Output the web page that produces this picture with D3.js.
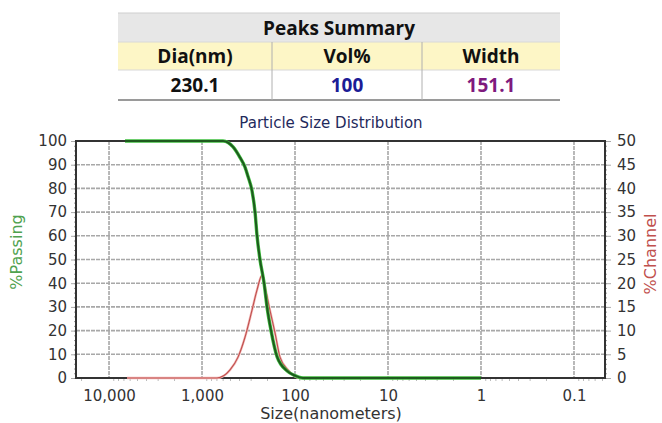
<!DOCTYPE html>
<html>
<head>
<meta charset="UTF-8">
<script src="https://d3js.org/d3.v7.min.js"></script>
<style>
  body { margin: 0; background: #fff; }
  text { font-family: "DejaVu Sans", sans-serif; }
</style>
</head>
<body>
<svg id="vis" width="662" height="423"></svg>
<script>
// peaks summary table
var tableTitle = "Peaks Summary";
var tableHeaders = ["Dia(nm)", "Vol%", "Width"];
var tableValues = ["230.1", "100", "151.1"];
var valueColors = ["#111", "#1c1c96", "#7e1a7e"];

// %Passing curve (size in nm -> cumulative %)
var passSizes = [6730, 1000, 594, 464, 390, 345, 320, 290, 269, 256, 238, 215, 200, 181, 156, 122, 100, 82, 10, 1];
var passValues = [100, 100, 100, 97.5, 93, 89, 85, 79, 70, 60, 50, 40, 30, 20, 9, 3, 1, 0, 0, 0];

// %Channel curve
var chanSizes = [6400, 1000, 690, 500, 410, 345, 290, 256, 226, 210, 186, 164, 145, 119, 88, 10, 1];
var chanValues = [0, 0, 0, 1.7, 4.4, 8.6, 14.3, 18.6, 21.7, 19.2, 14.3, 9.5, 4.4, 1.7, 0, 0, 0];

var xTicks = [10000, 1000, 100, 10, 1, 0.1];
var leftTicks = [0, 10, 20, 30, 40, 50, 60, 70, 80, 90, 100];
var rightTicks = [0, 5, 10, 15, 20, 25, 30, 35, 40, 45, 50];

var svg = d3.select("#vis");

// ---- table ----
var colX = [118, 272, 422, 560];
var rowY = [13, 42, 70, 100];
var gT = svg.append("g");
gT.append("rect").attr("x", colX[0]).attr("y", rowY[0]).attr("width", colX[3] - colX[0]).attr("height", rowY[1] - rowY[0]).attr("fill", "#e7e7e7");
gT.append("rect").attr("x", colX[0]).attr("y", rowY[1]).attr("width", colX[3] - colX[0]).attr("height", rowY[2] - rowY[1]).attr("fill", "#fdf6c6");
gT.append("line").attr("x1", colX[0]).attr("x2", colX[3]).attr("y1", rowY[0]).attr("y2", rowY[0]).attr("stroke", "#cfcfcf");
gT.append("line").attr("x1", colX[0]).attr("x2", colX[3]).attr("y1", rowY[1]).attr("y2", rowY[1]).attr("stroke", "#d8d8d8");
gT.append("line").attr("x1", colX[0]).attr("x2", colX[3]).attr("y1", rowY[2]).attr("y2", rowY[2]).attr("stroke", "#d8d8d8");
gT.append("line").attr("x1", colX[0]).attr("x2", colX[3]).attr("y1", rowY[3]).attr("y2", rowY[3]).attr("stroke", "#9a9a9a").attr("stroke-width", 2);
for (var c = 1; c < 3; c++) {
  gT.append("line").attr("x1", colX[c]).attr("x2", colX[c]).attr("y1", rowY[1]).attr("y2", rowY[3]).attr("stroke", "#b0b0b0");
}
gT.append("text").attr("x", (colX[0] + colX[3]) / 2).attr("y", rowY[0] + 22)
  .attr("text-anchor", "middle").style("font-family", "Open Sans").style("font-weight", "bold").style("font-size", "19px")
  .attr("fill", "#111").text(tableTitle);
for (var i = 0; i < 3; i++) {
  var cx = (colX[i] + colX[i + 1]) / 2;
  gT.append("text").attr("x", cx).attr("y", rowY[1] + 21).attr("text-anchor", "middle")
    .style("font-family", "Open Sans").style("font-weight", "bold").style("font-size", "19px")
    .attr("fill", "#111").text(tableHeaders[i]);
  gT.append("text").attr("x", cx).attr("y", rowY[2] + 22).attr("text-anchor", "middle")
    .style("font-family", "Open Sans").style("font-weight", "bold").style("font-size", "19px")
    .attr("fill", valueColors[i]).text(tableValues[i]);
}

// ---- chart ----
var scaleX = d3.scaleLog().domain([22650, 0.0464]).range([76, 605]);
var scaleY = d3.scaleLinear().domain([0, 100]).range([378, 141]);
var scaleY2 = d3.scaleLinear().domain([0, 50]).range([378, 141]);

svg.append("text").attr("x", 331).attr("y", 128).attr("text-anchor", "middle")
  .style("font-size", "15px").attr("fill", "#1f2a5c").text("Particle Size Distribution");

var gGrid = svg.append("g");
leftTicks.forEach(function(t) {
  if (t == 0 || t == 100) return;
  gGrid.append("line").attr("x1", 76).attr("x2", 605).attr("y1", scaleY(t)).attr("y2", scaleY(t))
    .attr("stroke", "#a8a8a8").attr("stroke-width", 1.6).attr("stroke-dasharray", "4,1");
});
xTicks.forEach(function(t) {
  gGrid.append("line").attr("x1", scaleX(t)).attr("x2", scaleX(t)).attr("y1", 141).attr("y2", 378)
    .attr("stroke", "#a8a8a8").attr("stroke-width", 1.6).attr("stroke-dasharray", "4,1");
});

// minor ticks on the bottom axis
var minor = [];
for (var e = -2; e <= 4; e++) {
  for (var m = 2; m <= 9; m++) {
    var v = m * Math.pow(10, e);
    if (v < 22650 && v > 0.0464) minor.push(v);
  }
}
var xAxis = d3.axisBottom(scaleX).tickValues(xTicks).tickSize(0).tickPadding(12)
  .tickFormat(function(d) { return d >= 1 ? d3.format(",")(d) : String(d); });
var gx = svg.append("g").attr("transform", "translate(0,378)").call(xAxis);
gx.select(".domain").remove();
gx.selectAll("text").style("font-size", "15px").style("font-family", "DejaVu Sans").attr("fill", "#333");
var gxm = svg.append("g").attr("transform", "translate(0,378)")
  .call(d3.axisBottom(scaleX).tickValues(minor).tickSize(3).tickFormat(""));
gxm.select(".domain").remove();
gxm.selectAll("line").attr("stroke", "#bbb");

// left axis
var yAxis = d3.axisLeft(scaleY).tickValues(leftTicks).tickSize(5).tickPadding(4);
var gy = svg.append("g").attr("transform", "translate(76,0)").call(yAxis);
gy.select(".domain").remove();
gy.selectAll("line").attr("stroke", "#aaa");
gy.selectAll("text").style("font-size", "15px").style("font-family", "DejaVu Sans").attr("fill", "#333");
var gym = svg.append("g").attr("transform", "translate(76,0)")
  .call(d3.axisLeft(scaleY).tickValues(d3.range(0, 101, 2)).tickSize(2).tickFormat(""));
gym.select(".domain").remove();
gym.selectAll("line").attr("stroke", "#999");

// right axis
var yAxis2 = d3.axisRight(scaleY2).tickValues(rightTicks).tickSize(6).tickPadding(6);
var gy2 = svg.append("g").attr("transform", "translate(605,0)").call(yAxis2);
gy2.select(".domain").remove();
gy2.selectAll("line").attr("stroke", "#aaa");
gy2.selectAll("text").style("font-size", "15px").style("font-family", "DejaVu Sans").attr("fill", "#333");
var gy2m = svg.append("g").attr("transform", "translate(605,0)")
  .call(d3.axisRight(scaleY2).tickValues(d3.range(0, 51, 1)).tickSize(2).tickFormat(""));
gy2m.select(".domain").remove();
gy2m.selectAll("line").attr("stroke", "#999");

// frame
svg.append("rect").attr("x", 76).attr("y", 141).attr("width", 529).attr("height", 237)
  .attr("fill", "none").attr("stroke", "#333").attr("stroke-width", 2);

// curves
var chanLine = d3.line().x(function(d) { return scaleX(d[0]); }).y(function(d) { return scaleY2(d[1]); })
  .curve(d3.curveMonotoneX);
var chanData = d3.zip(chanSizes, chanValues);
svg.append("path").attr("d", chanLine(chanData)).attr("fill", "none").attr("stroke", "#f2b8b8").attr("stroke-width", 2.4);
svg.append("path").attr("d", chanLine(chanData)).attr("fill", "none").attr("stroke", "#c0504d").attr("stroke-width", 1.1);

var passLine = d3.line().x(function(d) { return scaleX(d[0]); }).y(function(d) { return scaleY(d[1]); })
  .curve(d3.curveMonotoneX);
var passData = d3.zip(passSizes, passValues);
svg.append("path").attr("d", passLine(passData)).attr("fill", "none").attr("stroke", "#3fbf3f").attr("stroke-width", 3.4);
svg.append("path").attr("d", passLine(passData)).attr("fill", "none").attr("stroke", "#1e5a1e").attr("stroke-width", 2);

// axis titles
svg.append("text").attr("x", 331).attr("y", 419).attr("text-anchor", "middle")
  .style("font-size", "16px").attr("fill", "#333").text("Size(nanometers)");
svg.append("text").attr("transform", "translate(22,252) rotate(-90)").attr("text-anchor", "middle")
  .style("font-size", "16px").attr("fill", "#4fa24f").text("%Passing");
svg.append("text").attr("transform", "translate(656,254) rotate(-90)").attr("text-anchor", "middle")
  .style("font-size", "16px").attr("fill", "#c0504d").text("%Channel");
</script>
</body>
</html>
